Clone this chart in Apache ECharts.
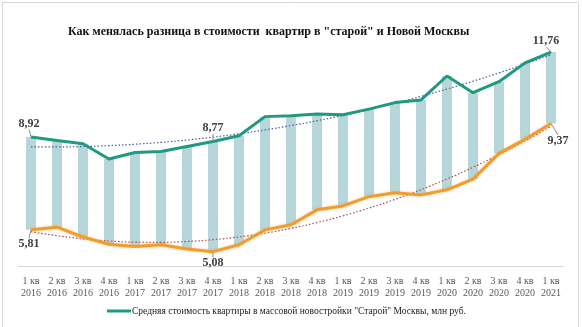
<!DOCTYPE html>
<html>
<head>
<meta charset="utf-8">
<script src="https://cdn.jsdelivr.net/npm/echarts@6/dist/echarts.min.js"></script>
<style>
  html, body { margin: 0; padding: 0; background: #ffffff; }
  #chart { width: 582px; height: 327px; }
</style>
</head>
<body>
<div id="chart"></div>
<script>
// Quarters, Q1 2016 – Q1 2021
var quarters = ['1 кв\n2016','2 кв\n2016','3 кв\n2016','4 кв\n2016',
                '1 кв\n2017','2 кв\n2017','3 кв\n2017','4 кв\n2017',
                '1 кв\n2018','2 кв\n2018','3 кв\n2018','4 кв\n2018',
                '1 кв\n2019','2 кв\n2019','3 кв\n2019','4 кв\n2019',
                '1 кв\n2020','2 кв\n2020','3 кв\n2020','4 кв\n2020',
                '1 кв\n2021'];

// Average price of a flat in mass-market new builds, mln rub.
var oldMoscow = [8.92, 8.80, 8.69, 8.18, 8.40, 8.43, 8.60, 8.77,
                 8.96, 9.60, 9.63, 9.69, 9.66, 9.85, 10.07, 10.16,
                 10.96, 10.40, 10.77, 11.40, 11.76];
var newMoscow = [5.81, 5.90, 5.57, 5.33, 5.25, 5.31, 5.17, 5.08,
                 5.31, 5.81, 5.98, 6.48, 6.61, 6.92, 7.05, 6.98,
                 7.15, 7.51, 8.37, 8.84, 9.37];

// Points that carry a value label
var labelledIdx = [0, 7, 20];

var legendName = 'Средняя стоимость квартиры в массовой новостройки "Старой" Москвы, млн руб.';

// Second-order least-squares trend over the quarter index
function quadTrend(ys) {
  var n = ys.length, s = [0,0,0,0,0], t = [0,0,0];
  for (var i = 0; i < n; i++) {
    var x = i + 1, p = 1;
    for (var k = 0; k < 5; k++) { s[k] += p; if (k < 3) t[k] += p * ys[i]; p *= x; }
  }
  var A = [[s[0],s[1],s[2],t[0]],[s[1],s[2],s[3],t[1]],[s[2],s[3],s[4],t[2]]];
  for (var c = 0; c < 3; c++) {
    for (var r = c + 1; r < 3; r++) {
      var f = A[r][c] / A[c][c];
      for (var m = c; m < 4; m++) A[r][m] -= f * A[c][m];
    }
  }
  var co = [0,0,0];
  for (var r2 = 2; r2 >= 0; r2--) {
    var v = A[r2][3];
    for (var m2 = r2 + 1; m2 < 3; m2++) v -= A[r2][m2] * co[m2];
    co[r2] = v / A[r2][r2];
  }
  return ys.map(function (_, i) { var x = i + 1; return co[0] + co[1]*x + co[2]*x*x; });
}

var gapBase = newMoscow.slice();
var gapSize = oldMoscow.map(function (v, i) { return +(v - newMoscow[i]).toFixed(2); });

function fmt(v) { return v.toFixed(2).replace('.', ','); }

var serif = '"Liberation Serif", "DejaVu Serif", serif';

function labelData(values) {
  return values.map(function (v, i) {
    if (labelledIdx.indexOf(i) < 0) return v;
    return { value: v, label: { show: true } };
  });
}

// Label shifts (dx, dy) for the labelled points, with a thin leader line
function shiftLayout(shifts) {
  return function (p) {
    var k = labelledIdx.indexOf(p.dataIndex);
    if (k < 0) return {};
    return { dx: shifts[k][0], dy: shifts[k][1] };
  };
}

var valueLabel = {
  show: false,
  formatter: function (p) { return fmt(p.value); },
  fontFamily: serif,
  fontSize: 12,
  fontWeight: 'bold',
  color: '#404040'
};

var leader = {
  show: true,
  length2: 0,
  lineStyle: { color: '#8c8c8c', width: 1 }
};

var chart = echarts.init(document.getElementById('chart'), null, { renderer: 'canvas' });

chart.setOption({
  animation: false,
  backgroundColor: '#ffffff',
  title: {
    text: 'Как менялась разница в стоимости  квартир в "старой" и Новой Москвы',
    left: 63,
    top: 21,
    textStyle: { fontFamily: serif, fontSize: 12, fontWeight: 'bold', color: '#111111' }
  },
  graphic: [{
    type: 'rect',
    shape: { x: 2.5, y: 2.5, width: 576, height: 340 },
    style: { fill: 'none', stroke: '#d9d9d9', lineWidth: 1 },
    silent: true
  }],
  legend: {
    data: [{ name: legendName, icon: 'rect' }],
    left: 102,
    top: 301,
    itemWidth: 24,
    itemHeight: 3,
    itemGap: 2,
    textStyle: { fontFamily: serif, fontSize: 9.5, color: '#222222', padding: [0, 0, 0, -4] }
  },
  grid: { left: 18, right: 18, top: 27, bottom: 61, containLabel: false },
  xAxis: {
    type: 'category',
    data: quarters,
    boundaryGap: true,
    axisLine: { show: true, lineStyle: { color: '#d9d9d9', width: 1 } },
    axisTick: { show: false },
    axisLabel: {
      interval: 0,
      margin: 9,
      fontFamily: serif,
      fontSize: 10,
      lineHeight: 12,
      color: '#595959'
    }
  },
  yAxis: {
    type: 'value',
    min: 4.6,
    max: 12.6,
    show: false,
    splitLine: { show: false }
  },
  series: [
    {
      name: 'base',
      type: 'bar',
      stack: 'gap',
      barWidth: 10,
      data: gapBase,
      itemStyle: { color: 'rgba(0,0,0,0)' },
      silent: true
    },
    {
      name: 'gap',
      type: 'bar',
      stack: 'gap',
      barWidth: 10,
      data: gapSize,
      itemStyle: { color: '#b7d6d9' },
      silent: true
    },
    {
      name: 'trendOld',
      type: 'line',
      data: quadTrend(oldMoscow),
      symbol: 'none',
      smooth: true,
      lineStyle: { color: '#3d5f9e', width: 1.2, type: [1.5, 2] },
      z: 3
    },
    {
      name: 'trendNew',
      type: 'line',
      data: quadTrend(newMoscow),
      symbol: 'none',
      smooth: true,
      lineStyle: { color: '#b04848', width: 1.2, type: [1.5, 2] },
      z: 3
    },
    {
      name: legendName,
      type: 'line',
      data: labelData(oldMoscow),
      symbol: 'circle',
      symbolSize: 1,
      color: '#1e9a80',
      itemStyle: { color: '#1e9a80' },
      lineStyle: { color: '#1e9a80', width: 3 },
      label: Object.assign({ position: 'top', distance: 3 }, valueLabel),
      labelLine: leader,
      labelLayout: shiftLayout([[-2, -4], [0, -4], [-5, -2]]),
      z: 4
    },
    {
      name: 'Новая Москва',
      type: 'line',
      data: labelData(newMoscow),
      symbol: 'circle',
      symbolSize: 1,
      itemStyle: { color: '#f39b2c' },
      lineStyle: {
        color: '#f39b2c', width: 3,
        shadowColor: 'rgba(243,155,44,0.45)', shadowBlur: 3
      },
      label: Object.assign({ position: 'bottom', distance: 3 }, valueLabel),
      labelLine: leader,
      labelLayout: shiftLayout([[-2, 5], [0, 2], [7, 8]]),
      z: 4
    }
  ]
});
</script>
</body>
</html>
